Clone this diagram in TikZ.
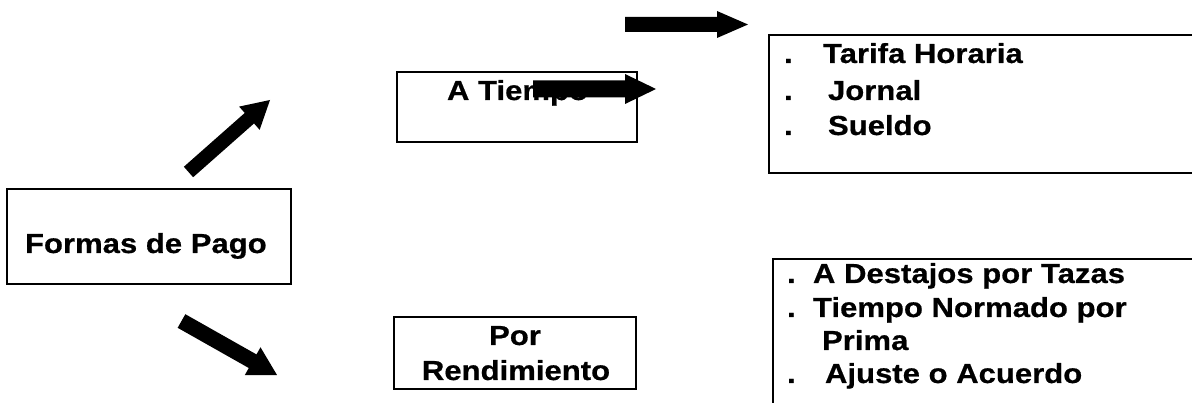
\documentclass[tikz,border=0pt]{standalone}
\usepackage{fontspec}
\setmainfont{Liberation Sans}[FakeStretch=1.13, BoldFeatures={FakeBold=0.6}]
\usetikzlibrary{calc}
\tikzset{
  box/.style={draw=black, line width=2.3pt},
  lbl/.style={inner sep=0pt, outer sep=0pt, font=\fontsize{27.5}{32}\selectfont\bfseries, text=black},
}
% block arrow: tail, tip, half shaft, half head, head length
\newcommand\blockarrow[5]{%
  \path ($(#2)!#5!(#1)$) coordinate (#2-base);
  \fill[black] ($(#1)!#3!90:(#2)$) -- ($(#2-base)!#3!90:(#2)$) -- ($(#2-base)!#4!90:(#2)$) -- (#2)
     -- ($(#2-base)!#4!-90:(#2)$) -- ($(#2-base)!#3!-90:(#2)$) -- ($(#1)!#3!-90:(#2)$) -- cycle;
}
\begin{document}
\begin{tikzpicture}[x=1pt, y=-1pt]
\useasboundingbox (0,0) rectangle (1192,403);
\clip (0,0) rectangle (1192,403);
\fill[white] (0,0) rectangle (1192,403);

% boxes
\draw[box] (7,189) rectangle (291,284) coordinate (formasbox);
\draw[box] (397,72) rectangle (637,142) coordinate (tiempobox);
\draw[box] (394,317) rectangle (636,389) coordinate (rendbox);
\draw[box] (769,35) rectangle (1240,173) coordinate (tiemplist);
\draw[box] (773,259) rectangle (1240,460) coordinate (rendlist);

% texts
\node[lbl, anchor=base west] (tformas) at (25,253) {Formas de Pago};
\node[lbl, anchor=base west] (ttiempo) at (447,100) {A Tiempo};
\node[lbl, anchor=base] (tpor) at (515,345) {Por};
\node[lbl, anchor=base] (trend) at (516,380) {Rendimiento};

\node[lbl, anchor=base west] (l1) at (784,63) {\makebox[39pt][l]{.}Tarifa Horaria};
\node[lbl, anchor=base west] (l2) at (784,100) {\makebox[44pt][l]{.}Jornal};
\node[lbl, anchor=base west] (l3) at (784,135) {\makebox[44pt][l]{.}Sueldo};

\node[lbl, anchor=base west] (m1) at (787,283) {\makebox[26pt][l]{.}A Destajos por Tazas};
\node[lbl, anchor=base west] (m2) at (787,317) {\makebox[26pt][l]{.}Tiempo Normado por};
\node[lbl, anchor=base west] (m3) at (822,350) {Prima};
\node[lbl, anchor=base west] (m4) at (787,383) {\makebox[38pt][l]{.}Ajuste o Acuerdo};

% arrow coordinates
\coordinate (a1t) at (625,24.5);  \coordinate (a1p) at (748,24.5);
\coordinate (a2t) at (533,89);    \coordinate (a2p) at (656,89);
\coordinate (a3t) at (188.5,172); \coordinate (a3p) at (270,100);
\coordinate (a4t) at (181.5,321); \coordinate (a4p) at (277,375);

\blockarrow{a1t}{a1p}{7.5pt}{13.5pt}{31pt}
\blockarrow{a2t}{a2p}{8.5pt}{15pt}{31pt}
\blockarrow{a3t}{a3p}{7pt}{15.5pt}{27.5pt}
\blockarrow{a4t}{a4p}{7.8pt}{16pt}{28pt}
\end{tikzpicture}
\end{document}
